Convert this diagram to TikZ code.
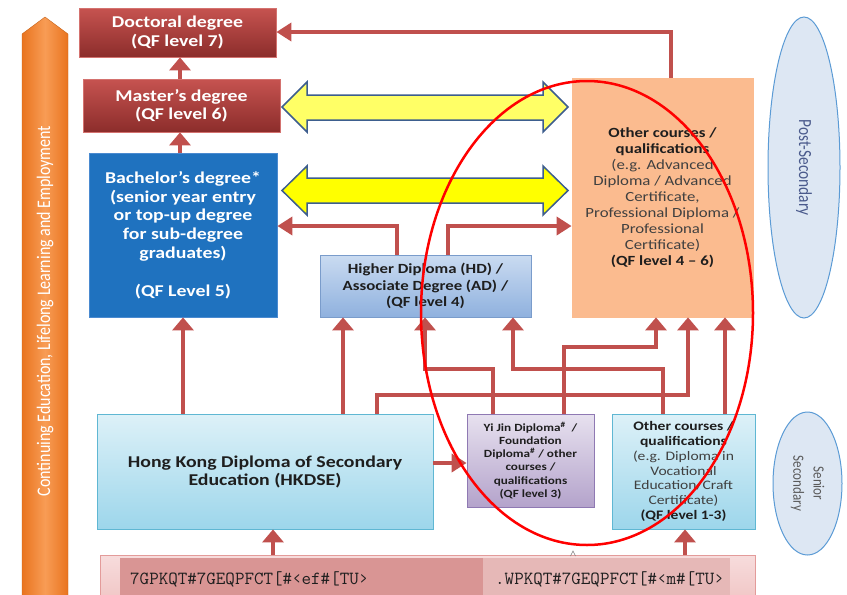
\documentclass[tikz,border=0pt]{standalone}
\usepackage{fontspec}
\setmainfont{Carlito}[FakeStretch=1.2]
\newfontfamily\rotfont{Carlito}
\usepackage{graphicx}
\usetikzlibrary{arrows.meta,shapes.geometric}
\definecolor{arrred}{HTML}{C0504D}
\definecolor{doctop}{HTML}{C65350}
\definecolor{docbot}{HTML}{8C2D2B}
\definecolor{docline}{HTML}{D4726F}
\definecolor{bachblue}{HTML}{1F72BF}
\definecolor{bachline}{HTML}{4A8AD0}
\definecolor{hdtop}{HTML}{CADBF1}
\definecolor{hdbot}{HTML}{8FB1DE}
\definecolor{hdline}{HTML}{7A9CCB}
\definecolor{cyantop}{HTML}{DDF1F8}
\definecolor{cyanbot}{HTML}{9DD6EB}
\definecolor{cyanline}{HTML}{5FB7D3}
\definecolor{yjtop}{HTML}{E7E1EF}
\definecolor{yjbot}{HTML}{B4A3CB}
\definecolor{yjline}{HTML}{8F79B3}
\definecolor{peach}{HTML}{FBBB8F}
\definecolor{yelA}{HTML}{FFFF66}
\definecolor{yelB}{HTML}{FFFF00}
\definecolor{yelline}{HTML}{3D5E8E}
\definecolor{orgmid}{HTML}{F89C55}
\definecolor{orgedge}{HTML}{E9741F}
\definecolor{ellfill}{HTML}{DDE7F3}
\definecolor{ellline}{HTML}{5B9BD5}
\definecolor{pstext}{HTML}{4A5A8C}
\definecolor{sstext}{HTML}{5A5A5A}
\definecolor{bartop}{HTML}{F7DCDC}
\definecolor{barbot}{HTML}{F0C4C3}
\definecolor{barline}{HTML}{E39B9A}
\definecolor{barleft}{HTML}{D99594}
\definecolor{barright}{HTML}{E6B8B7}
\definecolor{txtdark}{HTML}{1E1E1E}
\definecolor{txtgrey}{HTML}{404040}
\newcommand{\bk}[1]{\textcolor{txtdark}{\bfseries #1}}
\begin{document}
\begin{tikzpicture}[x=1pt,y=-1pt,
  box/.style={rectangle, inner sep=0pt, align=center, line width=0.8pt},
  varr/.style={draw=arrred, line width=4pt, -{Triangle[width=21pt,length=13pt]}},
  harr/.style={draw=arrred, line width=4pt, -{Triangle[width=18pt,length=15pt]}},
  yarr/.style={draw=yelline, line width=1.5pt, line join=miter},
  bartext/.style={anchor=base west, inner sep=0, text=txtdark, font=\ttfamily\fontsize{18.5}{20}\selectfont}]
\useasboundingbox (0,0) rectangle (847,595);
% orange side arrow
\shade[left color=orgedge, right color=orgedge, middle color=orgmid, draw=orgedge!85!black, line width=0.4pt]
  (22,600) -- (22,34) -- (45,17) -- (68,34) -- (68,600) -- cycle;
\node[rotate=90, text=white, font=\rotfont\fontsize{16}{19}\selectfont, inner sep=0] (cel) at (45,311)
  {\scalebox{1}[1.2]{Continuing Education, Lifelong Learning and Employment}};
% ellipses
\node[ellipse, rotate=-90, draw=ellline, fill=ellfill, line width=1pt, minimum width=301pt, minimum height=72pt, inner sep=0,
  text=pstext, font=\rotfont\fontsize{15.4}{18}\selectfont] (pse) at (804,167.5) {\scalebox{1}[1.2]{Post-Secondary}};
\node[ellipse, rotate=-90, draw=ellline, fill=ellfill, line width=1pt, minimum width=143pt, minimum height=69pt, inner sep=0,
  text=sstext, font=\rotfont\fontsize{13}{16.7}\selectfont] (sse) at (807.5,483.5)
  {\scalebox{1}[1.2]{\begin{tabular}{@{}c@{}}Senior\\Secondary\end{tabular}}};
% boxes
\node[box, top color=doctop, bottom color=docbot, draw=docline, minimum width=197pt, minimum height=49pt,
  text=white, font=\fontsize{16.5}{19}\selectfont\bfseries] (doc) at (177.5,32.5) {Doctoral degree\\(QF level 7)};
\node[box, top color=doctop, bottom color=docbot, draw=docline, minimum width=197pt, minimum height=53pt,
  text=white, font=\fontsize{16.5}{18.5}\selectfont\bfseries] (mas) at (181.5,105.5) {Master’s degree\\(QF level 6)};
\node[box, fill=bachblue, draw=bachline, minimum width=188pt, minimum height=164pt,
  text=white, font=\fontsize{16.5}{18.8}\selectfont\bfseries] (bach) at (183,235)
  {Bachelor’s degree*\\(senior year entry\\or top-up degree\\for sub-degree\\graduates)\\[18.8pt](QF Level 5)};
\node[box, fill=peach, draw=peach, minimum width=181pt, minimum height=239pt,
  text=txtgrey, font=\fontsize{14}{16}\selectfont] (ops) at (662.5,197.5)
  {\bk{Other courses /}\\\bk{qualifications}\\(e.g. Advanced\\Diploma / Advanced\\Certificate,\\Professional Diploma /\\Professional\\Certificate)\\\bk{(QF level 4 – 6)}};
\node[box, top color=hdtop, bottom color=hdbot, draw=hdline, minimum width=211pt, minimum height=62pt,
  text=txtdark, font=\fontsize{14}{16.5}\selectfont\bfseries] (hd) at (425.5,286)
  {Higher Diploma (HD) /\\Associate Degree (AD) /\\(QF level 4)};
\node[box, top color=cyantop, bottom color=cyanbot, draw=cyanline, minimum width=336pt, minimum height=115pt,
  text=txtdark, font=\fontsize{16.5}{18}\selectfont\bfseries] (hkdse) at (265,471.5)
  {Hong Kong Diploma of Secondary\\Education (HKDSE)};
\node[box, top color=yjtop, bottom color=yjbot, draw=yjline, minimum width=127pt, minimum height=93pt,
  text=txtdark, font=\fontsize{11}{13.2}\selectfont\bfseries] (yj) at (530.5,460.5)
  {Yi Jin Diploma\textsuperscript{\#}\ \ /\\Foundation\\Diploma\textsuperscript{\#} / other\\courses /\\qualifications\\(QF level 3)};
\node[box, top color=cyantop, bottom color=cyanbot, draw=cyanline, minimum width=143pt, minimum height=115pt,
  text=txtgrey, font=\fontsize{13}{14.8}\selectfont] (oss) at (683.5,471.5)
  {\bk{Other courses /}\\\bk{qualifications}\\(e.g. Diploma in\\Vocational\\Education/Craft\\Certificate)\\\bk{(QF level 1-3)}};
% bottom bar
\node[rectangle, draw=barline, top color=bartop, bottom color=barbot, line width=0.8pt, minimum width=655pt, minimum height=50pt, inner sep=0] (bar) at (427.5,580) {};
\fill[barleft] (120,558) rectangle (483,600);
\fill[barright] (483,558) rectangle (730,600);
\node[bartext] (jsl) at (130,584) {7GPKQT\#7GEQPFCT[\#‹ef\#[TU›};
\node[bartext] (jsr) at (495,584) {.WPKQT\#7GEQPFCT[\#‹m\#[TU›};
\draw[gray, line width=0.6pt] (570.5,556) -- (573,551) -- (575.5,556);
% yellow double arrows
\draw[yarr, fill=yelA] (282,107) -- (307,82) -- (307,95) -- (543,95) -- (543,82) -- (568,107)
  -- (543,132) -- (543,120) -- (307,120) -- (307,132) -- cycle;
\draw[yarr, fill=yelB] (282,190.5) -- (307,166) -- (307,178) -- (543,178) -- (543,166) -- (568,190.5)
  -- (543,215) -- (543,203) -- (307,203) -- (307,215) -- cycle;
% coordinates for connector columns and rows
\coordinate (c180) at (180,0);
\coordinate (c273) at (273,0);
\coordinate (c343) at (343,0);
\coordinate (c377) at (377,0);
\coordinate (c397) at (397,0);
\coordinate (c425) at (425,0);
\coordinate (c448) at (448,0);
\coordinate (c493) at (493,0);
\coordinate (c513) at (513,0);
\coordinate (c564) at (564,0);
\coordinate (c656) at (656,0);
\coordinate (c663) at (663,0);
\coordinate (c671) at (671,0);
\coordinate (c685) at (685,0);
\coordinate (c688) at (688,0);
\coordinate (c725) at (725,0);
\coordinate (r32) at (0,32);
\coordinate (r226) at (0,226);
\coordinate (r347) at (0,347);
\coordinate (r369) at (0,369);
\coordinate (r395) at (0,395);
\coordinate (r463) at (0,463);
% connectors
\draw[varr] (c180 |- mas.north) -- (c180 |- doc.south);
\draw[varr] (c180 |- bach.north) -- (c180 |- mas.south);
\draw[harr] (c671 |- ops.north) |- (doc.east |- r32);
\draw[harr] (c397 |- hd.north) |- (bach.east |- r226);
\draw[harr] (c448 |- hd.north) |- (ops.west |- r226);
\draw[varr] (bach.south |- hkdse.north) -- (bach.south);
\draw[varr] (c343 |- hkdse.north) -- (c343 |- hd.south);
\draw[varr] (c377 |- hkdse.north) -- (c377 |- r395) -| (c688 |- ops.south);
\draw[varr] (c493 |- yj.north) -- (c493 |- r369) -| (c425 |- hd.south);
\draw[varr] (c663 |- oss.north) -- (c663 |- r369) -| (c513 |- hd.south);
\draw[varr] (c564 |- yj.north) -- (c564 |- r347) -| (c656 |- ops.south);
\draw[varr] (c725 |- oss.north) -- (c725 |- ops.south);
\draw[harr] (hkdse.east |- r463) -- (yj.west |- r463);
\draw[varr] (c273 |- bar.north) -- (c273 |- hkdse.south);
\draw[varr] (c685 |- bar.north) -- (c685 |- oss.south);
% red highlight ellipse
\draw[red, line width=2.5pt] (587,313) ellipse [x radius=166pt, y radius=232pt];
\end{tikzpicture}
\end{document}
